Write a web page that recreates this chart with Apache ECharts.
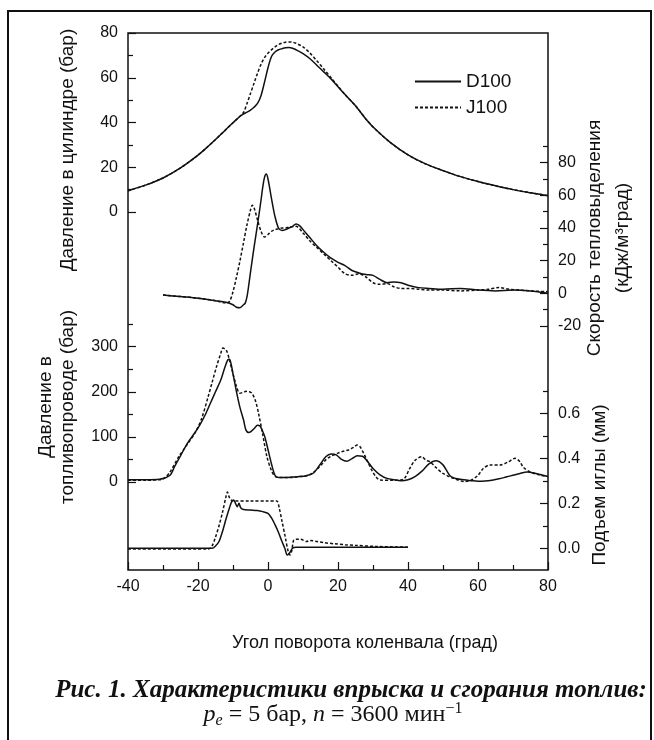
<!DOCTYPE html>
<html>
<head>
<meta charset="utf-8">
<script src="https://cdn.jsdelivr.net/npm/echarts@6/dist/echarts.min.js"></script>
<style>
  html, body { margin: 0; padding: 0; background: #fff; }
  #chart { width: 654px; height: 740px; }
</style>
</head>
<body>
<div id="chart"></div>
<script>
// угол поворота коленвала, град
var angleTicks = [-40, -20, 0, 20, 40, 60, 80];

// давление в цилиндре, бар
var cylAngle = [-40,-35,-30,-25,-20,-17,-15,-12,-10,-8,-7,-6,-5,-4,-3,-2,-1,0,1,2,3,4,5,6,7,8,10,12,14,16,18,20,22,25,28,31,35,40,45,50,55,60,65,70,75,80];
var cylD100 = [9.5,12,15.2,19.7,25.4,29.5,32.4,36.9,39.9,42.8,43.8,44.6,45.5,46.8,48.5,52,58,64.5,69.5,71.5,72.5,73,73.4,73.5,73.2,72.5,70.8,68.5,65.5,62.5,59.5,56,52.5,47.5,41.5,36.5,31,25.5,21.5,18.5,15.8,13.6,11.7,10,8.6,7.3];
var cylJ100 = [9.5,12,15.2,19.7,25.4,29.5,32.4,36.9,39.9,42.8,44.5,48.5,53,57.5,62,66,69,71,72.5,73.8,74.8,75.5,75.9,76,75.9,75.4,73.8,71,67.5,63.8,60,56.3,52.5,47.5,41.5,36.5,31,25.5,21.5,18.5,15.8,13.6,11.7,10,8.6,7.3];

// скорость тепловыделения, кДж/м3град
var heatAngleD = [-30,-25,-20,-15,-12,-10,-9,-8,-7,-6.5,-6,-5.5,-5,-4,-3,-2,-1.5,-1,-0.5,0,1,2,3,4,5,6,7,8,9,10,12,14,16,18,20,22,24,26,28,30,32,34,36,38,40,43,46,50,55,60,65,70,75,80];
var heatD100 = [-1,-2,-3,-4.5,-5.5,-7,-8.5,-8.8,-7,-6,-2,5,13,28,42,57,65,71,73,70,58,47,40,38.5,39,40,41,42.5,41.5,39,34,29,25,21.5,19,17,14,12.5,11.5,11,8.5,6.5,7,6.5,5,3.5,3,2.5,3,2,1.5,2,1.5,0];
var heatAngleJ = [-30,-25,-20,-15,-12,-11,-10,-9,-8,-7,-6,-5,-4.5,-4,-3,-2,-1,0,1,2,3,4,5,6,8,10,12,14,16,18,20,22,24,26,28,30,32,34,36,38,40,43,46,50,55,60,63,66,69,72,75,80];
var heatJ100 = [-1,-2,-3,-4.5,-6,-5,1,10,20,31,42,51,54,52.5,45,38,34.5,36,38,39,39.5,40,40,40.5,41,37,32,28,24,20,16,12,11,12,10,6.5,5.5,6,4,3,3,2.5,2,2,1.5,2,2.5,3.5,2.5,2,1.5,1];

// давление в топливопроводе, бар
var fuelAngleD = [-40,-35,-31,-28,-26.7,-25,-23,-21,-19.5,-18,-16.5,-15,-13.5,-12.5,-11.5,-11,-10.5,-10,-9,-8,-7,-6.3,-5.5,-5,-4,-3,-2.3,-1.5,-0.9,0,1,2,3,5,7,9,11,13,15,16.5,18,19.5,21,22.5,24,25.5,27,28.5,30,32,34,36,38,40,42,44,46,48,50,52,54,56,58,60,62,64,66,68,70,72,74,76,78,80];
var fuelD100 = [5,5,6,15,34,58,86,108,126,148,174,200,226,250,271,272,260,240,200,165,138,115,110,111,118,126,124,112,100,72,40,15,10,10,11,12,14,20,40,56,62,60,50,46,52,58,57,45,30,16,8,5,3,5,12,24,40,47,38,14,7,5,3,1.5,2,4,7,11,15,19,22,20,16,12];
var fuelAngleJ = [-40,-35,-31,-29.7,-28,-25.5,-23,-20.7,-19,-17.1,-16,-14.7,-13.5,-12.9,-12.3,-11.7,-11,-10,-9,-8.1,-7,-6.3,-5.3,-4.5,-3.5,-2.7,-1.5,-0.3,1,2.1,4,6.9,9,11.7,14,16.5,18,20,21.5,23,24.5,25.5,26.3,27.3,28.5,29.6,31,32,35,38,39.1,40.5,42,43.9,45.2,46.3,48,50,53,56.3,58,60,61.5,63.4,66.3,68.5,70.6,72,72.9,75,77.6,80];
var fuelJ100 = [4,4,5,8,22,56,84,111,140,189,220,256,285,297,295,289,270,240,212,197,199,201,200,196,178,152,105,56,25,12,10,10,12,15.5,28,49,57,64,68,71,77,82,78,64,45,27,10,4.4,4,4.4,9,30,48,56,48,45,32,19,8,1,4,15,30,37.7,37.7,44,52.5,45,33,22,15.5,12];

// подъем иглы, мм
var liftAngleD = [-40,-16,-15,-14,-13,-12,-11,-10.3,-9.8,-9.3,-8.8,-8.3,-7.8,-7,-5,-3,-1.5,0,1,2,3,4,4.8,5.5,6.2,7,8,40];
var liftD100 = [0,0,0.01,0.03,0.075,0.13,0.18,0.21,0.215,0.2,0.185,0.2,0.18,0.172,0.17,0.168,0.163,0.155,0.135,0.105,0.07,0.03,0,-0.03,-0.02,0,0.005,0.005];
var liftAngleJ = [-40,-17,-16,-15,-14,-13,-12,-11.6,-11,-10,-5,0,2.5,3.2,4,5,5.7,6.3,6.8,7.3,8,9.3,11,12,14,16,19,22,25,31,40];
var liftJ100 = [-0.003,-0.003,0.01,0.05,0.1,0.16,0.23,0.25,0.225,0.21,0.21,0.21,0.21,0.18,0.12,0.045,-0.01,-0.03,-0.01,0.035,0.04,0.04,0.03,0.035,0.03,0.025,0.02,0.016,0.013,0.008,0.005];

var cylTicks = [0, 20, 40, 60, 80];
var heatTicks = [-20, 0, 20, 40, 60, 80];
var fuelTicks = [0, 100, 200, 300];
var liftTicks = [0, 0.2, 0.4, 0.6];

function zip(xs, ys) {
  return xs.map(function (x, i) { return [x, ys[i]]; });
}

var SANS = '"Liberation Sans", Arial, sans-serif';
var SERIF = '"Liberation Serif", "Times New Roman", serif';
var INK = '#111';

var L = 128, W = 420;

var tick = { inside: true, length: 8, lineStyle: { color: INK, width: 1.2 } };
var minor = { show: true, splitNumber: 2, length: 5, lineStyle: { color: INK, width: 1.2 } };
var label = { color: INK, fontSize: 16, fontFamily: SANS, margin: 10 };

function xAx(i, shown) {
  return {
    type: 'value', gridIndex: i, min: -40, max: 80, interval: 20, show: shown,
    axisLine: { show: false, onZero: false }, splitLine: { show: false },
    axisTick: tick, minorTick: minor,
    axisLabel: Object.assign({}, label, { margin: 9, customValues: angleTicks })
  };
}

function yAx(i, pos, min, max, step, ticks, fmt) {
  return {
    type: 'value', gridIndex: i, position: pos, min: min, max: max, interval: step,
    axisLine: { show: false, onZero: false }, splitLine: { show: false },
    axisTick: Object.assign({ customValues: ticks }, tick),
    minorTick: minor,
    axisLabel: Object.assign({}, label, { customValues: ticks, formatter: fmt })
  };
}

function line(name, xi, data, dashed) {
  return {
    name: name, type: 'line', xAxisIndex: xi, yAxisIndex: xi, data: data,
    showSymbol: false, symbol: 'none', clip: false, smooth: 0.3, animation: false,
    lineStyle: { color: INK, width: 1.5, type: dashed ? [3, 2] : 'solid' },
    itemStyle: { color: INK }
  };
}

function vtext(x, y, text) {
  return {
    type: 'text', x: x, y: y, rotation: Math.PI / 2,
    style: { text: text, font: '19px ' + SANS, fill: INK, align: 'center', verticalAlign: 'middle' }
  };
}

var chart = echarts.init(document.getElementById('chart'), null, { renderer: 'canvas' });

chart.setOption({
  backgroundColor: '#fff',
  animation: false,
  grid: [
    { left: L, top: 33, width: W, height: 537, show: true, borderColor: INK, borderWidth: 1.5, backgroundColor: 'rgba(0,0,0,0)', outerBoundsMode: 'none' },
    { left: L, top: 33, width: W, height: 179, outerBoundsMode: 'none' },
    { left: L, top: 130, width: W, height: 196, outerBoundsMode: 'none' },
    { left: L, top: 301.6, width: W, height: 180.4, outerBoundsMode: 'none' },
    { left: L, top: 368.3, width: W, height: 180, outerBoundsMode: 'none' }
  ],
  xAxis: [xAx(0, true), xAx(1, false), xAx(2, false), xAx(3, false), xAx(4, false)],
  yAxis: [
    { type: 'value', gridIndex: 0, min: 0, max: 1, show: false },
    yAx(1, 'left', 0, 80, 20, cylTicks),
    yAx(2, 'right', -20, 100, 20, heatTicks),
    yAx(3, 'left', 0, 400, 100, fuelTicks),
    yAx(4, 'right', 0, 0.8, 0.2, liftTicks, function (v) { return v.toFixed(1); })
  ],
  legend: {
    data: ['D100', 'J100'], orient: 'vertical', left: 414, top: 72, padding: 0,
    itemWidth: 46, itemHeight: 14, itemGap: 7, selectedMode: false,
    itemStyle: { opacity: 0 },
    textStyle: { color: INK, fontSize: 19, fontFamily: SANS }
  },
  series: [
    line('D100', 1, zip(cylAngle, cylD100), false),
    line('J100', 1, zip(cylAngle, cylJ100), true),
    line('D100', 2, zip(heatAngleD, heatD100), false),
    line('J100', 2, zip(heatAngleJ, heatJ100), true),
    line('D100', 3, zip(fuelAngleD, fuelD100), false),
    line('J100', 3, zip(fuelAngleJ, fuelJ100), true),
    line('D100', 4, zip(liftAngleD, liftD100), false),
    line('J100', 4, zip(liftAngleJ, liftJ100), true)
  ],
  graphic: [
    { type: 'rect', shape: { x: 8, y: 11, width: 643, height: 740 }, style: { fill: 'none', stroke: INK, lineWidth: 2 } },
    vtext(68, 150, 'Давление в цилиндре (бар)'),
    vtext(46, 407, 'Давление в'),
    vtext(68, 407, 'топливопроводе (бар)'),
    vtext(595, 238, 'Скорость тепловыделения'),
    vtext(623, 238, '(кДж/м³град)'),
    vtext(600, 485, 'Подъем иглы (мм)'),
    {
      type: 'text', x: 365, y: 643,
      style: { text: 'Угол поворота коленвала (град)', font: '18px ' + SANS, fill: INK, align: 'center', verticalAlign: 'middle' }
    },
    {
      type: 'text', x: 351, y: 691,
      style: { text: 'Рис. 1. Характеристики впрыска и сгорания топлив:', font: 'italic bold 25px ' + SERIF, fill: INK, align: 'center', verticalAlign: 'middle' }
    },
    {
      type: 'text', x: 333, y: 715,
      style: {
        text: '{i|p}{sub|e}{r| = 5 бар, }{i|n}{r| = 3600 мин}{sup|−1}',
        align: 'center', verticalAlign: 'middle', fill: INK,
        rich: {
          i: { fontStyle: 'italic', fontFamily: SERIF, fontSize: 24, lineHeight: 28, verticalAlign: 'middle' },
          r: { fontFamily: SERIF, fontSize: 24, lineHeight: 28, verticalAlign: 'middle' },
          sub: { fontStyle: 'italic', fontFamily: SERIF, fontSize: 16, lineHeight: 16, verticalAlign: 'bottom' },
          sup: { fontFamily: SERIF, fontSize: 16, lineHeight: 16, verticalAlign: 'top' }
        }
      }
    }
  ]
});
</script>
</body>
</html>
